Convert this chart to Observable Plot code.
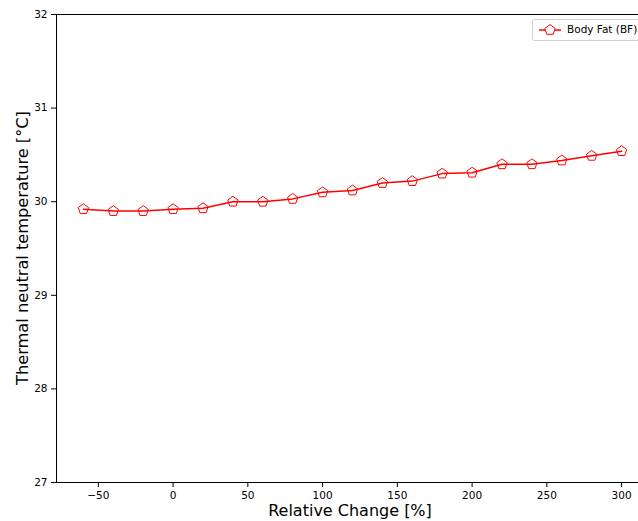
<!DOCTYPE html>
<html><head><meta charset="utf-8">
<script src="https://cdn.jsdelivr.net/npm/d3@7"></script>
<script src="https://cdn.jsdelivr.net/npm/@observablehq/plot@0.6"></script>
<style>
body{margin:0;background:#fff;}
#chart{position:relative;width:638px;height:521px;overflow:hidden;font-family:"DejaVu Sans",sans-serif;}
#legend{position:absolute;left:532px;top:19px;width:120px;height:20px;border:1px solid #d0d0d0;border-radius:3px;background:rgba(255,255,255,0.8);font-size:10.5px;color:#000;}
#legend svg{position:absolute;left:4px;top:0;}
#legend span{position:absolute;left:34px;top:3px;white-space:nowrap;}
</style>
</head><body><div id="chart"></div>
<script>
const relChange = [-60,-40,-20,0,20,40,60,80,100,120,140,160,180,200,220,240,260,280,300];
const temperature = [29.92,29.90,29.90,29.92,29.93,30.00,30.00,30.03,30.10,30.12,30.20,30.22,30.30,30.31,30.40,30.40,30.44,30.49,30.54];
const seriesName = "Body Fat (BF)";
const xTicks = [-50,0,50,100,150,200,250,300];
const yTicks = [27,28,29,30,31,32];
const xLabel = "Relative Change [%]";
const yLabel = "Thermal neutral temperature [°C]";

const data = relChange.map((x,i)=>({x, y: temperature[i]}));
const pentagon = {draw(ctx, size){
  const r = Math.sqrt(size/Math.PI);
  for(let i=0;i<5;i++){const a=-Math.PI/2+i*2*Math.PI/5;const px=r*Math.cos(a),py=r*Math.sin(a); if(i) ctx.lineTo(px,py); else ctx.moveTo(px,py);}
  ctx.closePath();
}};
const fmt = d => d < 0 ? "\u2212" + Math.abs(d) : String(d);

const plot = Plot.plot({
  width: 638, height: 521,
  marginLeft: 56, marginTop: 14, marginBottom: 39, marginRight: 0,
  style: {fontFamily: '"DejaVu Sans", sans-serif', fontSize: "10px", color: "#000", background: "#fff"},
  x: {domain: [-78, 318], range: [56, 648], ticks: xTicks, tickFormat: fmt, tickSize: 5, tickPadding: 4, label: null},
  y: {domain: [27, 32], ticks: yTicks, tickFormat: fmt, tickSize: 5, tickPadding: 4, label: null},
  marks: [
    Plot.axisX({ticks: xTicks, tickFormat: fmt, tickSize: 5, tickPadding: 4, label: null, fontSize: 10.5}),
    Plot.axisY({ticks: yTicks, tickFormat: fmt, tickSize: 5, tickPadding: 4, label: null, fontSize: 10.5}),
    Plot.ruleY([27, 32], {stroke: "#000", strokeWidth: 1}),
    Plot.ruleX([-78], {stroke: "#000", strokeWidth: 1}),
    Plot.line(data, {x: "x", y: "y", stroke: "red", strokeWidth: 1.5}),
    Plot.dot(data, {x: "x", y: "y", symbol: pentagon, r: 5.4, stroke: "red", fill: "none", strokeWidth: 1})
  ]
});
const chart = document.getElementById("chart");
chart.appendChild(plot);

// axis titles
const svg = d3.select(plot);
svg.append("text").attr("x", 350).attr("y", 516).attr("text-anchor", "middle")
  .attr("font-size", 16).attr("fill", "#000").text(xLabel);
svg.append("text").attr("transform", "translate(28,248) rotate(-90)").attr("text-anchor", "middle")
  .attr("font-size", 16.2).attr("fill", "#000").text(yLabel);

// legend
const lg = document.createElement("div");
lg.id = "legend";
lg.innerHTML = `<svg width="30" height="20"><line x1="2" y1="10" x2="24" y2="10" stroke="red" stroke-width="1.5"/><path d="" stroke="red" fill="white" stroke-width="1"/></svg><span></span>`;
lg.querySelector("span").textContent = seriesName;
const sym = d3.path(); pentagon.draw(sym, 5.4*5.4*Math.PI);
lg.querySelector("path").setAttribute("d", sym.toString());
lg.querySelector("path").setAttribute("transform", "translate(13,10)");
chart.appendChild(lg);
</script>
</body></html>
